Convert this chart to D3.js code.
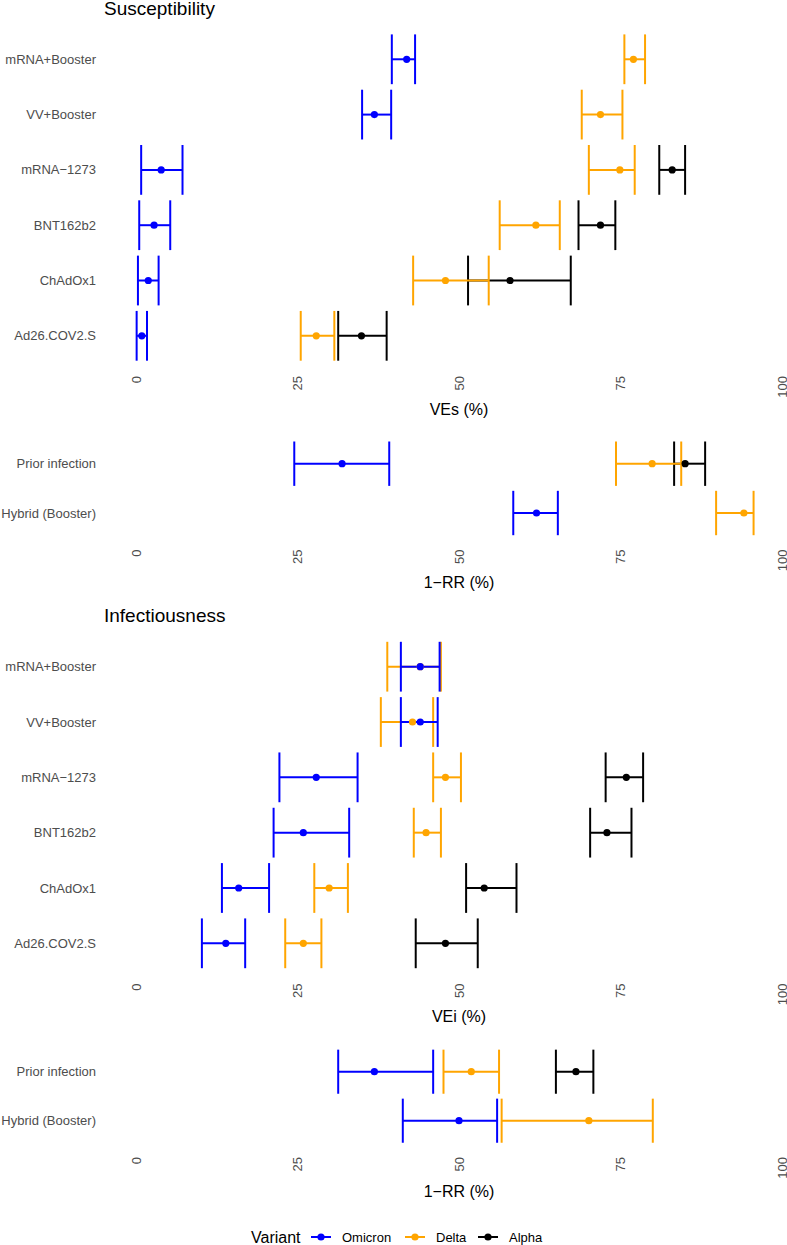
<!DOCTYPE html>
<html><head><meta charset="utf-8">
<script src="https://cdn.jsdelivr.net/npm/d3@7"></script>
<style>body{margin:0;background:#fff}svg{display:block}text{font-family:"Liberation Sans",Arial,Helvetica,sans-serif}</style>
</head><body><svg id="c" width="787" height="1245"></svg>
<script>
const vaccines = ["mRNA+Booster","VV+Booster","mRNA\u22121273","BNT162b2","ChAdOx1","Ad26.COV2.S"];
const immunity = ["Prior infection","Hybrid (Booster)"];
const variants = ["Omicron","Delta","Alpha"];
const variantColors = ["#0000FF","#FFA500","#000000"];
const ticks = [0,25,50,75,100];

// [category, variant, estimate, lower, upper]
const susceptibility = [
 ["mRNA+Booster","Omicron",41.9,39.6,43.2],
 ["mRNA+Booster","Delta",77.0,75.6,78.8],
 ["VV+Booster","Omicron",36.9,35.0,39.5],
 ["VV+Booster","Delta",71.9,69.0,75.3],
 ["mRNA\u22121273","Omicron",3.9,0.8,7.2],
 ["mRNA\u22121273","Delta",74.9,70.1,77.2],
 ["mRNA\u22121273","Alpha",83.0,81.0,85.0],
 ["BNT162b2","Omicron",2.8,0.5,5.3],
 ["BNT162b2","Delta",61.9,56.3,65.6],
 ["BNT162b2","Alpha",71.9,68.5,74.2],
 ["ChAdOx1","Omicron",1.9,0.3,3.5],
 ["ChAdOx1","Delta",47.9,42.9,54.6],
 ["ChAdOx1","Alpha",57.9,51.4,67.3],
 ["Ad26.COV2.S","Omicron",0.9,0.1,1.7],
 ["Ad26.COV2.S","Delta",27.9,25.5,30.7],
 ["Ad26.COV2.S","Alpha",34.9,31.3,38.8]
];
const susceptibilityImmunity = [
 ["Prior infection","Omicron",31.9,24.5,39.2],
 ["Prior infection","Delta",79.9,74.3,84.4],
 ["Prior infection","Alpha",85.0,83.3,88.1],
 ["Hybrid (Booster)","Omicron",62.0,58.4,65.3],
 ["Hybrid (Booster)","Delta",94.1,89.8,95.6]
];
const infectiousness = [
 ["mRNA+Booster","Omicron",44.0,41.0,47.0],
 ["mRNA+Booster","Delta",44.0,38.9,47.2],
 ["VV+Booster","Omicron",44.0,41.0,46.7],
 ["VV+Booster","Delta",42.8,37.9,46.0],
 ["mRNA\u22121273","Omicron",27.9,22.2,34.3],
 ["mRNA\u22121273","Delta",47.9,46.0,50.3],
 ["mRNA\u22121273","Alpha",75.9,72.7,78.5],
 ["BNT162b2","Omicron",25.9,21.3,33.0],
 ["BNT162b2","Delta",44.9,43.0,47.2],
 ["BNT162b2","Alpha",72.9,70.3,76.7],
 ["ChAdOx1","Omicron",15.9,13.3,20.6],
 ["ChAdOx1","Delta",29.9,27.6,32.8],
 ["ChAdOx1","Alpha",53.9,51.1,58.9],
 ["Ad26.COV2.S","Omicron",13.9,10.2,16.9],
 ["Ad26.COV2.S","Delta",25.9,23.1,28.7],
 ["Ad26.COV2.S","Alpha",47.9,43.3,52.9]
];
const infectiousnessImmunity = [
 ["Prior infection","Omicron",36.9,31.3,46.0],
 ["Prior infection","Delta",51.9,47.6,56.2],
 ["Prior infection","Alpha",68.1,65.0,70.8],
 ["Hybrid (Booster)","Omicron",50.0,41.3,55.9],
 ["Hybrid (Booster)","Delta",70.1,56.6,80.0]
];

const svg = d3.select("#c");
const color = d3.scaleOrdinal().domain(variants).range(variantColors);
const x = d3.scaleLinear().domain([0,100]).range([136,782]);
const drawOrder = ["Alpha","Delta","Omicron"];

function panel(opts){
  const {cats, data, top, bottom, title, titleY, xTitle, xTitleY} = opts;
  const y = d3.scalePoint().domain(cats).range([top,bottom]).padding(0.6);
  const half = y.step()*0.45;
  const g = svg.append("g");
  if (title) g.append("text").attr("x",104).attr("y",titleY).attr("font-size",19).attr("fill","#000").text(title);
  g.selectAll(".yl").data(cats).join("text")
    .attr("x",96).attr("y",d=>y(d)).attr("dy","0.35em").attr("text-anchor","end")
    .attr("font-size",13).attr("fill","#4d4d4d").text(d=>d);
  g.selectAll(".xt").data(ticks).join("text")
    .attr("transform",d=>`translate(${x(d)},${bottom+7}) rotate(-90)`)
    .attr("dy","0.35em").attr("text-anchor","end")
    .attr("font-size",13).attr("fill","#4d4d4d").text(d=>d);
  g.append("text").attr("x",(x(0)+x(100))/2).attr("y",xTitleY).attr("text-anchor","middle")
    .attr("font-size",16).attr("fill","#000").text(xTitle);
  const sorted = data.slice().sort((a,b)=>drawOrder.indexOf(a[1])-drawOrder.indexOf(b[1]));
  const eb = g.append("g").attr("fill","none").attr("stroke-width",2);
  sorted.forEach(d=>{
    const c = color(d[1]), yy = y(d[0]);
    eb.append("line").attr("x1",x(d[3])).attr("x2",x(d[4])).attr("y1",yy).attr("y2",yy).attr("stroke",c);
    eb.append("line").attr("x1",x(d[3])).attr("x2",x(d[3])).attr("y1",yy-half).attr("y2",yy+half).attr("stroke",c);
    eb.append("line").attr("x1",x(d[4])).attr("x2",x(d[4])).attr("y1",yy-half).attr("y2",yy+half).attr("stroke",c);
  });
  g.append("g").selectAll("circle").data(sorted).join("circle")
    .attr("cx",d=>x(d[2])).attr("cy",d=>y(d[0])).attr("r",3.6).attr("fill",d=>color(d[1]));
}

panel({cats:vaccines, data:susceptibility, top:26.1, bottom:369, title:"Susceptibility", titleY:14.5, xTitle:"VEs (%)", xTitleY:414.5});
panel({cats:immunity, data:susceptibilityImmunity, top:434.1, bottom:542.6, xTitle:"1\u2212RR (%)", xTitleY:588});
panel({cats:vaccines, data:infectiousness, top:633.5, bottom:976.5, title:"Infectiousness", titleY:622, xTitle:"VEi (%)", xTitleY:1022});
panel({cats:immunity, data:infectiousnessImmunity, top:1042.3, bottom:1150.1, xTitle:"1\u2212RR (%)", xTitleY:1197});

// legend
const lg = svg.append("g");
const ly = 1237;
lg.append("text").attr("x",251).attr("y",ly).attr("dy","0.35em").attr("font-size",16).attr("fill","#000").text("Variant");
const keyX = [311,405,478];
variants.forEach((v,i)=>{
  lg.append("line").attr("x1",keyX[i]).attr("x2",keyX[i]+20).attr("y1",ly).attr("y2",ly).attr("stroke",color(v)).attr("stroke-width",2);
  lg.append("circle").attr("cx",keyX[i]+10).attr("cy",ly).attr("r",3.6).attr("fill",color(v));
  lg.append("text").attr("x",keyX[i]+31).attr("y",ly).attr("dy","0.35em").attr("font-size",13).attr("fill","#000").text(v);
});
</script></body></html>
